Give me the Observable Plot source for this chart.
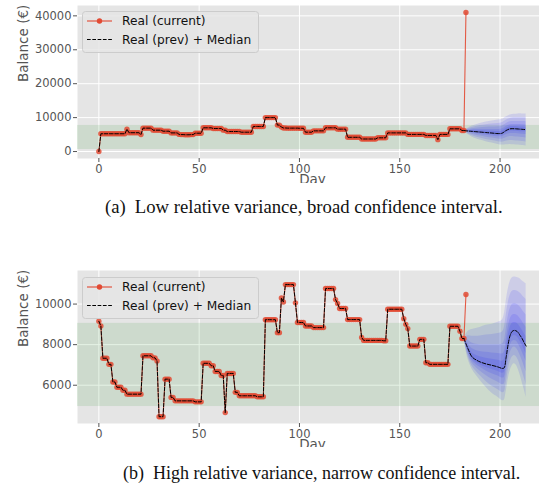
<!DOCTYPE html>
<html>
<head>
<meta charset="utf-8">
<script src="https://cdn.jsdelivr.net/npm/d3@7"></script>
<script src="https://cdn.jsdelivr.net/npm/@observablehq/plot@0.6"></script>
<style>
  html, body { margin: 0; padding: 0; background: #fff; }
  #root { position: relative; width: 539px; height: 486px; overflow: hidden; }
  .panel { position: absolute; left: 0; width: 539px; overflow: hidden; }
  .panel svg { max-width: none !important; }
  .legend { position: absolute; left: 82px; }
  .caption { position: absolute; font-family: "Liberation Serif", "DejaVu Serif", serif; color: #111; white-space: nowrap; }
  .caption .tag { margin-right: 9px; }
</style>
</head>
<body>
<div id="root">
  <div class="panel" id="pa" style="top:0px;height:183px"></div>
  <div class="panel" id="pb" style="top:265px;height:182px"></div>
  <div class="caption" style="left:105px;top:196px;font-size:18.7px"><span class="tag">(a)</span>Low relative variance, broad confidence interval.</div>
  <div class="caption" style="left:123px;top:463px;font-size:18px"><span class="tag">(b)</span>High relative variance, narrow confidence interval.</div>
</div>
<script>
// ---------- data ----------
const xTicks = [0, 50, 100, 150, 200];
const xDomain = [-10.65, 223.65];

// Panel (a): daily balance, days 0..183
const realA = [
  0,
  5250,5250,5250,5250,5250,5250,5250,5250,5250,5250,5250,5250,5250,
  6600,
  5550,5550,5550,5550,5550,5550,
  5000,
  6900,6900,6900,6900,6900,
  6300,6300,6300,6300,6300,
  6000,6000,6000,6000,
  5500,5500,5500,5500,
  5050,5000,5000,4950,4950,4950,5000,5000,
  5400,5400,5400,5400,
  7000,7000,7000,7000,7000,
  6800,6800,6800,6800,6800,
  6300,6300,
  5900,5900,5900,5900,5900,5900,5900,
  5700,5700,5700,5700,5700,5700,
  7400,7400,7400,7400,7400,7400,
  10000,10000,10000,10000,10000,10000,
  7800,7800,7200,
  6950,6950,6900,6900,6900,6900,6900,6900,6850,6850,6850,
  5700,5700,5700,5700,
  6100,6100,6100,6100,6100,6100,
  7000,7000,7000,7000,7000,7000,
  6600,6600,6600,6600,6600,
  4200,4200,4200,4200,4200,4200,4200,
  3700,3700,3700,3700,3700,3700,3700,3700,
  4050,4050,4050,4050,4050,
  5500,5500,5500,5500,5500,5500,5500,5500,5500,5500,
  5050,5050,5050,5050,5050,5050,5050,5050,5050,
  4750,4750,4750,4750,4750,4750,
  3500,
  5050,5050,5050,5050,5050,
  6700,6700,6700,6700,6700,6700,
  6200,6200,
  41000
];
const fDaysA = [182, 184, 186, 188, 190, 193, 196, 199, 201, 203, 205, 207, 209, 211, 213];
const fMedA  = [6200, 6050, 5950, 5850, 5750, 5600, 5450, 5300, 5400, 6200, 6700, 6720, 6650, 6550, 6450];
const fUpA   = [6200, 6900, 7500, 7900, 8300, 8700, 9000, 9300, 9500, 10200, 10800, 11000, 11100, 11100, 11100];
const fLoA   = [6200, 5000, 4300, 3800, 3400, 2900, 2500, 2100, 1900, 2000, 2100, 2000, 1900, 1750, 1600];
const bandA  = [600, 7700];
const yTicksA = [0, 10000, 20000, 30000, 40000];
const yDomainA = [-2050, 43050];

// Panel (b): daily balance, days 0..183
const realB = [
  9150,
  8920,
  7330,7330,7330,
  7030,7030,
  6160,6160,
  5900,5900,5900,
  5750,5750,
  5560,5560,5560,5560,5560,5560,5560,5560,
  7450,7450,7450,7450,7450,
  7350,7350,
  7200,
  4450,4450,4450,
  6300,6300,6300,
  5400,5400,
  5230,5230,5230,5230,5230,5230,5230,5230,5230,5230,
  5180,5180,5180,5180,
  7080,7080,7080,7080,
  6960,6960,
  6680,6680,6680,
  6480,6480,
  4650,
  6580,6580,6580,6580,
  5650,5650,
  5480,5480,5480,5480,5480,5480,5480,5480,5480,
  5430,5430,5430,5430,
  9230,9230,9230,9230,9230,9230,
  8590,8590,
  10300,
  10100,
  10960,10960,10960,10960,10960,
  10060,
  9090,9090,9090,9090,
  8920,8920,8920,8920,
  8840,8840,8840,8840,8840,8840,
  10765,10765,10765,10765,10765,
  10220,
  10030,
  9780,9780,9780,9780,
  9235,9235,9235,9235,9235,9235,9235,
  8350,
  8210,8210,8210,8210,8210,8210,8210,8210,8210,8210,8190,8190,
  9745,9745,9745,9745,9745,9745,9745,9745,
  9280,
  9000,
  8790,
  7930,7930,7930,7930,7930,
  8260,8260,8260,
  7110,7110,
  7030,7030,7030,7030,7030,7030,7030,7030,7030,7030,
  8905,8905,8905,8905,8905,
  8660,
  8300,8300,
  10470
];
const fDaysB = [182, 184, 186, 188, 190, 193, 196, 199, 201, 202, 203, 204, 205, 206, 207, 208, 209, 210, 211, 212, 213];
const fMedB  = [8300, 7800, 7400, 7250, 7150, 7050, 6980, 6900, 6830, 6850, 7350, 8000, 8450, 8650, 8700, 8680, 8600, 8450, 8300, 8100, 7930];
const fUpB   = [8300, 8650, 8750, 8800, 8850, 8950, 9000, 9100, 9200, 9450, 10100, 10700, 11100, 11280, 11330, 11320, 11300, 11250, 11150, 11070, 11000];
const fLoB   = [8300, 7300, 6800, 6500, 6250, 5900, 5600, 5400, 5250, 5250, 5650, 6250, 6700, 6950, 7060, 7000, 6800, 6500, 6150, 5800, 5400];
const bandB  = [4950, 9050];
const yTicksB = [6000, 8000, 10000];
const yDomainB = [4114, 11654];

// nested confidence levels (fraction of outer spread)
const bandLevels = [1, 0.75, 0.5, 0.3, 0.15];

// ---------- drawing ----------
const RED = "#E24A33";

function panel({real, fDays, fMed, fUp, fLo, band, yTicks, yDomain}) {
  const realData = real.map((v, i) => ({day: i, v}));
  const prevData = realData.slice(0, -1);
  const fc = fDays.map((d, i) => ({day: d, med: fMed[i], up: fUp[i], lo: fLo[i]}));
  const bandMarks = bandLevels.map(l =>
    Plot.areaY(fc.map(r => ({day: r.day, y1: r.med - l * (r.med - r.lo), y2: r.med + l * (r.up - r.med)})),
      {x: "day", y1: "y1", y2: "y2", fill: "#0000ff", fillOpacity: 0.1, curve: "catmull-rom"})
  );
  const svg = Plot.plot({
    width: 560, height: 190,
    marginLeft: 77, marginRight: 13, marginTop: 5, marginBottom: 32,
    x: {domain: xDomain},
    y: {domain: yDomain},
    style: {fontFamily: "DejaVu Sans", fontSize: "11.5px", color: "#555555", background: "transparent", overflow: "visible"},
    marks: [
      Plot.frame({fill: "#e5e5e5", stroke: null}),
      Plot.gridX(xTicks, {stroke: "white", strokeOpacity: 1, strokeWidth: 1}),
      Plot.gridY(yTicks, {stroke: "white", strokeOpacity: 1, strokeWidth: 1}),
      Plot.rect([{lo: band[0], hi: band[1]}], {y1: "lo", y2: "hi", fill: "green", fillOpacity: 0.1}),
      ...bandMarks,
      Plot.line(realData, {x: "day", y: "v", stroke: RED, strokeWidth: 1.1, strokeOpacity: 0.9}),
      Plot.dot(realData, {x: "day", y: "v", r: 2.7, fill: RED, fillOpacity: 0.85, stroke: null}),
      Plot.line(prevData, {x: "day", y: "v", stroke: "black", strokeWidth: 1, strokeDasharray: "3.7,1.6"}),
      Plot.line(fc, {x: "day", y: "med", stroke: "black", strokeWidth: 1, strokeDasharray: "3.7,1.6", curve: "catmull-rom"}),
      Plot.axisX({ticks: xTicks, tickSize: 4, tickPadding: 2, label: null, tickFormat: d3.format("d")}),
      Plot.axisY({ticks: yTicks, tickSize: 4, tickPadding: 2, label: null, tickFormat: d3.format("d")}),
      Plot.text(["Balance (€)"], {frameAnchor: "left", dx: -54, rotate: -90, text: d => d, fontSize: 13.5, fill: "#555555"}),
      Plot.text(["Day"], {frameAnchor: "bottom", dy: 25, text: d => d, fontSize: 13.5, fill: "#555555"})
    ]
  });
  svg.style.maxWidth = "none";
  return svg;
}

function legend(top) {
  const ns = "http://www.w3.org/2000/svg";
  const svg = document.createElementNS(ns, "svg");
  svg.setAttribute("width", 178); svg.setAttribute("height", 43);
  svg.setAttribute("class", "legend");
  svg.style.top = top + "px";
  svg.innerHTML = `
    <rect x="0.5" y="0.5" width="176" height="41" rx="3" fill="#e5e5e5" fill-opacity="0.8" stroke="#cccccc"/>
    <line x1="5" x2="30" y1="10" y2="10" stroke="${RED}" stroke-width="1.1"/>
    <circle cx="17.5" cy="10" r="2.7" fill="${RED}"/>
    <text x="40" y="10" dy="0.35em" font-family="DejaVu Sans" font-size="12.2" fill="#111">Real (current)</text>
    <line x1="5" x2="30" y1="28.5" y2="28.5" stroke="black" stroke-width="1" stroke-dasharray="3.7,1.6"/>
    <text x="40" y="28.5" dy="0.35em" font-family="DejaVu Sans" font-size="12.2" fill="#111">Real (prev) + Median</text>`;
  return svg;
}

document.getElementById("pa").appendChild(panel({real: realA, fDays: fDaysA, fMed: fMedA, fUp: fUpA, fLo: fLoA, band: bandA, yTicks: yTicksA, yDomain: yDomainA}));
document.getElementById("pb").appendChild(panel({real: realB, fDays: fDaysB, fMed: fMedB, fUp: fUpB, fLo: fLoB, band: bandB, yTicks: yTicksB, yDomain: yDomainB}));
const root = document.getElementById("root");
root.appendChild(legend(11));
root.appendChild(legend(276.5));
</script>
</body>
</html>
